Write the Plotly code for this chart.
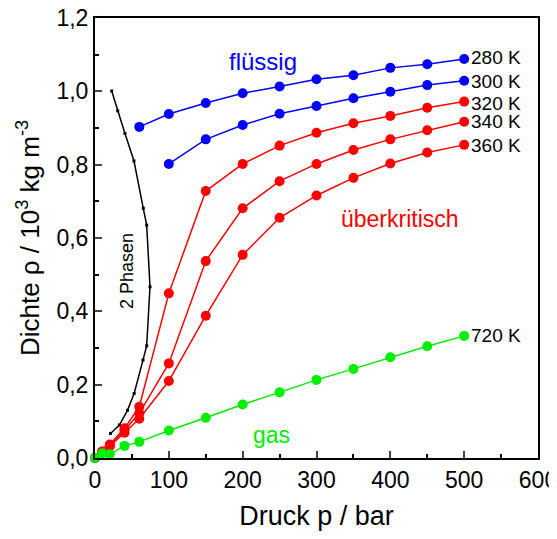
import plotly.graph_objects as go

# ---------------- data ----------------
p_280 = [60, 100, 150, 200, 250, 300, 350, 400, 450, 500]
rho_280 = [0.903, 0.938, 0.968, 0.995, 1.013, 1.033, 1.044, 1.064, 1.074, 1.088]

p_300 = [100, 150, 200, 250, 300, 350, 400, 450, 500]
rho_300 = [0.802, 0.869, 0.908, 0.939, 0.960, 0.981, 0.999, 1.017, 1.029]

p_sc = [0, 10, 20, 40, 60, 100, 150, 200, 250, 300, 350, 400, 450, 500]
rho_320 = [0.0, 0.018, 0.037, 0.081, 0.140, 0.449, 0.728, 0.802, 0.852, 0.887, 0.913, 0.933, 0.955, 0.972]
rho_340 = [0.0, 0.017, 0.035, 0.076, 0.122, 0.258, 0.537, 0.681, 0.755, 0.802, 0.840, 0.869, 0.894, 0.917]
rho_360 = [0.0, 0.016, 0.032, 0.069, 0.107, 0.210, 0.388, 0.554, 0.655, 0.716, 0.764, 0.803, 0.833, 0.854]

p_720 = [0, 10, 20, 40, 60, 100, 150, 200, 250, 300, 350, 400, 450, 500]
rho_720 = [0.0, 0.013, 0.010, 0.033, 0.044, 0.075, 0.110, 0.146, 0.179, 0.213, 0.243, 0.275, 0.305, 0.333]

p_2ph = [21, 33, 44, 53, 65, 70, 74.5, 70, 65.4, 52.8, 40.6, 30.7, 22.6]
rho_2ph = [0.067, 0.090, 0.130, 0.176, 0.267, 0.306, 0.467, 0.635, 0.681, 0.810, 0.885, 0.947, 1.001]

temp_labels = ["280 K", "300 K", "320 K", "340 K", "360 K"]
temp_label_y = [1.091, 1.026, 0.968, 0.917, 0.851]
gas_label = "720 K"

x_ticks = [0, 100, 200, 300, 400, 500, 600]
y_ticks = [0.0, 0.2, 0.4, 0.6, 0.8, 1.0, 1.2]
y_ticktext = ["0,0", "0,2", "0,4", "0,6", "0,8", "1,0", "1,2"]

BLUE = "#0000ff"
RED = "#ff0000"
GREEN = "#00ee00"
FONT = "Liberation Sans, Arial, sans-serif"

fig = go.Figure()

def add(px, py, color):
    fig.add_trace(go.Scatter(
        x=px, y=py, mode="lines+markers",
        line=dict(color=color, width=1.5),
        marker=dict(color=color, size=10, line=dict(width=0)),
        showlegend=False, hoverinfo="skip", cliponaxis=False))

fig.add_trace(go.Scatter(
    x=p_2ph, y=rho_2ph, mode="lines+markers",
    line=dict(color="black", width=1.5),
    marker=dict(color="black", size=3, symbol="square"),
    showlegend=False, hoverinfo="skip"))

add(p_280, rho_280, BLUE)
add(p_300, rho_300, BLUE)
add(p_sc, rho_320, RED)
add(p_sc, rho_340, RED)
add(p_sc, rho_360, RED)
add(p_720, rho_720, GREEN)

annotations = []
for t, yv in zip(temp_labels, temp_label_y):
    annotations.append(dict(x=507, y=yv, text=t, showarrow=False, xanchor="left",
                            yanchor="middle", font=dict(size=19, color="black", family=FONT)))
annotations.append(dict(x=507, y=0.335, text=gas_label, showarrow=False, xanchor="left",
                        yanchor="middle", font=dict(size=19, color="black", family=FONT)))
annotations.append(dict(x=227.6, y=1.082, text="flüssig", showarrow=False,
                        font=dict(size=24, color=BLUE, family=FONT)))
annotations.append(dict(x=413, y=0.652, text="überkritisch", showarrow=False,
                        font=dict(size=23, color=RED, family=FONT)))
annotations.append(dict(x=239.7, y=0.062, text="gas", showarrow=False,
                        font=dict(size=23, color=GREEN, family=FONT)))
annotations.append(dict(x=43.3, y=0.51, text="2 Phasen", showarrow=False, textangle=-90,
                        font=dict(size=18, color="black", family=FONT)))

# page body has an 8px margin, so margins are set to compensate for the offset
fig.update_layout(
    width=557, height=523,
    margin=dict(l=87, r=27, t=10, b=73),
    paper_bgcolor="white", plot_bgcolor="white",
    font=dict(family=FONT, color="black"),
    annotations=annotations,
)

fig.update_xaxes(
    range=[0, 600], tickvals=x_ticks, ticks="inside", ticklen=7, tickwidth=1.5,
    showline=True, linecolor="black", linewidth=2, mirror=True,
    showgrid=False, zeroline=False, automargin=False, ticklabeloverflow="allow",
    tickfont=dict(size=23, family=FONT),
    minor=dict(dtick=50, ticks="inside", ticklen=4, tickwidth=1.5, tickcolor="black"),
    title=dict(text="Druck p / bar", font=dict(size=27, family=FONT), standoff=21),
)
fig.update_yaxes(
    range=[0, 1.2], tickvals=y_ticks, ticktext=y_ticktext, ticks="inside", ticklen=7, tickwidth=1.5,
    showline=True, linecolor="black", linewidth=2, mirror=True,
    showgrid=False, zeroline=False, automargin=False, ticklabeloverflow="allow",
    tickfont=dict(size=23, family=FONT),
    minor=dict(dtick=0.1, ticks="inside", ticklen=4, tickwidth=1.5, tickcolor="black"),
    title=dict(text="Dichte ρ / 10<sup>3</sup> kg m<sup>-3</sup>", font=dict(size=26, family=FONT), standoff=9),
)

fig.write_html("out.html", default_width="557px", default_height="523px")
